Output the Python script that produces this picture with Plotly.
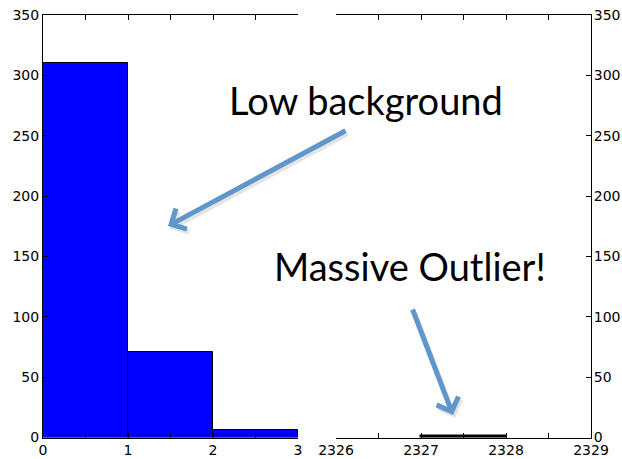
import plotly.graph_objects as go

# Histogram counts, split over two x ranges (broken axis)
low_edges = [0, 1, 2]
low_counts = [310, 71, 6]
high_edges = [2327]
high_counts = [1]
bin_width = 1

low_range = [0, 3]
high_range = [2326, 2329]
y_range = [0, 350]

low_tickvals = [0, 0.5, 1, 1.5, 2, 2.5, 3]
low_ticktext = ["0", "", "1", "", "2", "", "3"]
high_tickvals = [2326, 2326.5, 2327, 2327.5, 2328, 2328.5, 2329]
high_ticktext = ["2326", "", "2327", "", "2328", "", "2329"]
y_tickvals = [0, 50, 100, 150, 200, 250, 300, 350]

W, H = 622, 459
BAR = "#0000ff"
ARROW = "#6096cc"
TICKFONT = dict(family="DejaVu Sans", size=14, color="black")

fig = go.Figure()
fig.add_trace(go.Bar(x=low_edges, y=low_counts, width=bin_width, offset=0,
                     marker=dict(color=BAR, line=dict(color="black", width=1)),
                     xaxis="x", yaxis="y", hoverinfo="skip"))
fig.add_trace(go.Bar(x=high_edges, y=high_counts, width=bin_width, offset=0,
                     marker=dict(color="black", line=dict(color="black", width=1.5)),
                     xaxis="x2", yaxis="y2", hoverinfo="skip"))

xdom1 = [43 / W, 298 / W]
xdom2 = [336 / W, 591 / W]
ydom = [(H - 437.5) / H, (H - 15) / H]

axis_common = dict(showgrid=False, zeroline=False, showline=True, linecolor="black",
                   linewidth=1, ticks="inside", ticklen=5, tickcolor="black",
                   tickfont=TICKFONT, automargin=False)

fig.update_layout(
    width=W, height=H, margin=dict(l=0, r=0, t=0, b=0),
    paper_bgcolor="white", plot_bgcolor="white", showlegend=False, bargap=0,
    xaxis=dict(domain=xdom1, range=low_range, anchor="y", mirror="ticks",
               tickmode="array", tickvals=low_tickvals, ticktext=low_ticktext,
               **axis_common),
    yaxis=dict(domain=ydom, range=y_range, anchor="x", side="left",
               tickmode="array", tickvals=y_tickvals, **axis_common),
    xaxis2=dict(domain=xdom2, range=high_range, anchor="y2", mirror="ticks",
                tickmode="array", tickvals=high_tickvals, ticktext=high_ticktext,
                **axis_common),
    yaxis2=dict(domain=ydom, range=y_range, anchor="x2", side="right",
                tickmode="array", tickvals=y_tickvals, ticklabelstandoff=-1,
                **axis_common),
)

# Callout texts
TEXTFONT = dict(family="Lato", size=38, color="black")
fig.add_annotation(x=366 / W, y=(H - 100) / H, xref="paper", yref="paper",
                   text="Low background", showarrow=False, font=TEXTFONT,
                   xanchor="center", yanchor="middle")
fig.add_annotation(x=410 / W, y=(H - 266) / H, xref="paper", yref="paper",
                   text="Massive Outlier!", showarrow=False, font=TEXTFONT,
                   xanchor="center", yanchor="middle")

# Arrows (with a soft drop shadow)
arrows = [((168, 226), (347, 130)), ((453, 415), (412, 308))]
for (hx, hy), (tx, ty) in arrows:
    for dx, dy, col in [(2, 3, "rgba(0,0,0,0.10)"), (0, 0, ARROW)]:
        fig.add_annotation(x=(hx + dx) / W, y=(H - hy - dy) / H, xref="paper", yref="paper",
                           ax=tx - hx, ay=ty - hy, text="", showarrow=True,
                           arrowhead=4, arrowsize=0.9, arrowwidth=5,
                           arrowcolor=col, standoff=0, startstandoff=0)

fig.write_html("out.html")
